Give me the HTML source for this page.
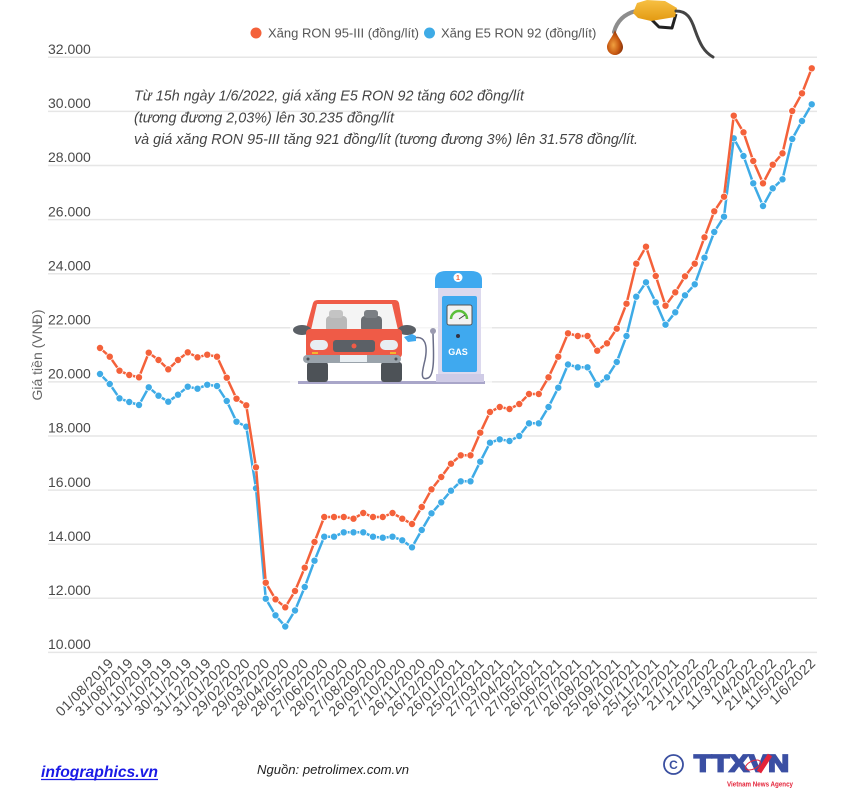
<!DOCTYPE html>
<html><head><meta charset="utf-8">
<style>
html,body{margin:0;padding:0;background:#fff;}
svg{display:block;}
text{font-family:"Liberation Sans",Arial,sans-serif;}
</style></head>
<body>
<svg width="843" height="802" viewBox="0 0 843 802" xmlns="http://www.w3.org/2000/svg">
<defs>
<marker id="mo" markerUnits="userSpaceOnUse" markerWidth="10" markerHeight="10" viewBox="-5 -5 10 10" refX="0" refY="0"><circle r="3.6" fill="#f4613a" stroke="#fff" stroke-width="0.8"/></marker>
<marker id="mb" markerUnits="userSpaceOnUse" markerWidth="10" markerHeight="10" viewBox="-5 -5 10 10" refX="0" refY="0"><circle r="3.6" fill="#3eabe6" stroke="#fff" stroke-width="0.8"/></marker>
<radialGradient id="drop" cx="0.4" cy="0.6" r="0.6"><stop offset="0" stop-color="#f0a040"/><stop offset="0.6" stop-color="#c85a12"/><stop offset="1" stop-color="#8a3208"/></radialGradient>
<linearGradient id="noz" x1="0" y1="0" x2="0" y2="1"><stop offset="0" stop-color="#f7c043"/><stop offset="1" stop-color="#e39a12"/></linearGradient>
</defs>
<rect width="843" height="802" fill="#fff"/>

<!-- gridlines -->
<g stroke="#e6e6e6" stroke-width="1.5">
<line x1="48" y1="57.3" x2="817" y2="57.3"/>
<line x1="48" y1="111.4" x2="817" y2="111.4"/>
<line x1="48" y1="165.5" x2="817" y2="165.5"/>
<line x1="48" y1="219.6" x2="817" y2="219.6"/>
<line x1="48" y1="273.7" x2="817" y2="273.7"/>
<line x1="48" y1="327.8" x2="817" y2="327.8"/>
<line x1="48" y1="381.9" x2="817" y2="381.9"/>
<line x1="48" y1="436" x2="817" y2="436"/>
<line x1="48" y1="490.1" x2="817" y2="490.1"/>
<line x1="48" y1="544.2" x2="817" y2="544.2"/>
<line x1="48" y1="598.3" x2="817" y2="598.3"/>
<line x1="48" y1="652.4" x2="817" y2="652.4"/>
</g>

<!-- y labels -->
<g font-size="14" fill="#4a4a4a">
<text x="48" y="54">32.000</text>
<text x="48" y="108.1">30.000</text>
<text x="48" y="162.2">28.000</text>
<text x="48" y="216.3">26.000</text>
<text x="48" y="270.4">24.000</text>
<text x="48" y="324.5">22.000</text>
<text x="48" y="378.6">20.000</text>
<text x="48" y="432.7">18.000</text>
<text x="48" y="486.8">16.000</text>
<text x="48" y="540.9">14.000</text>
<text x="48" y="595">12.000</text>
<text x="48" y="649.1">10.000</text>
</g>
<text transform="translate(42,355) rotate(-90)" text-anchor="middle" font-size="14" fill="#666">Giá tiền (VNĐ)</text>

<!-- legend -->
<circle cx="256" cy="33" r="5.5" fill="#f4613a"/>
<text x="268" y="37.5" font-size="13" fill="#555">Xăng RON 95-III (đồng/lít)</text>
<circle cx="429.5" cy="33" r="5.5" fill="#3eabe6"/>
<text x="441" y="37.5" font-size="13" fill="#555">Xăng E5 RON 92 (đồng/lít)</text>

<!-- nozzle -->
<g>
<path d="M636,11 C624,14 617,21 614,32" fill="none" stroke="#8d8d8d" stroke-width="4" stroke-linecap="round"/>
<path d="M615,30 C612,38 607,42 607,47 A8,8 0 0 0 623,47 C623,42 618,38 615,30 Z" fill="url(#drop)"/>
<path d="M650,18 L659,27 L672,28 L676,14" fill="none" stroke="#222" stroke-width="3" stroke-linejoin="round"/>
<path d="M633,13 L637,3 L647,0 L665,1 L677,8 L675,17 L663,19 L651,21 L638,18 Z" fill="url(#noz)"/>
<path d="M676,11 C687,11 691,18 695,30 C700,44 704,52 713,57" fill="none" stroke="#444" stroke-width="3" stroke-linecap="round"/>
</g>

<!-- annotation -->
<g font-size="15" font-style="italic" fill="#444">
<text x="134" y="100.7" textLength="390" lengthAdjust="spacingAndGlyphs">Từ 15h ngày 1/6/2022, giá xăng E5 RON 92 tăng 602 đồng/lít</text>
<text x="134" y="122.3" textLength="260" lengthAdjust="spacingAndGlyphs">(tương đương 2,03%) lên 30.235 đồng/lít</text>
<text x="134" y="144" textLength="504" lengthAdjust="spacingAndGlyphs">và giá xăng RON 95-III tăng 921 đồng/lít (tương đương 3%) lên 31.578 đồng/lít.</text>
</g>

<!-- car illustration -->
<rect x="290" y="262" width="202" height="146" fill="#fff" opacity="0.6"/>
<g>
<rect x="298" y="381" width="187" height="3" fill="#a9a6c9"/>
<path d="M318,300 L395,300 Q398,300 399,303 L404,332 L305,332 L313,303 Q314,300 318,300 Z" fill="#ef5b47"/>
<path d="M321,304 L392,304 L398,330 L311,330 L317,304 Z" fill="#f4f4f4"/>
<rect x="326" y="316" width="21" height="16" rx="4" fill="#b9b9b9"/>
<rect x="329" y="310" width="14" height="8" rx="3" fill="#c4c4c4"/>
<rect x="361" y="316" width="21" height="16" rx="4" fill="#6b6f74"/>
<rect x="364" y="310" width="14" height="8" rx="3" fill="#7b7f84"/>
<ellipse cx="302" cy="330" rx="9" ry="5" fill="#5b6066"/>
<ellipse cx="407" cy="330" rx="9" ry="5" fill="#5b6066"/>
<rect x="306" y="329" width="96" height="29" rx="4" fill="#ef5b47"/>
<rect x="310" y="340" width="18" height="10" rx="5" fill="#e8eef2"/>
<rect x="380" y="340" width="18" height="10" rx="5" fill="#e8eef2"/>
<rect x="333" y="340" width="42" height="12" rx="3" fill="#5b6066"/>
<circle cx="354" cy="346" r="2.5" fill="#ef5b47"/>
<rect x="312" y="352" width="6" height="2" fill="#f5b52e"/>
<rect x="390" y="352" width="6" height="2" fill="#f5b52e"/>
<rect x="307" y="362" width="21" height="20" rx="3" fill="#4d5257"/>
<rect x="381" y="362" width="21" height="20" rx="3" fill="#4d5257"/>
<rect x="303" y="355" width="98" height="8" rx="4" fill="#9aa3ab"/>
<rect x="340" y="355" width="27" height="7" fill="#e8eef2"/>
<circle cx="308" cy="359" r="1.5" fill="#4d5257"/>
<circle cx="396" cy="359" r="1.5" fill="#4d5257"/>
<path d="M414,338 C425,335 428,345 425,360 C422,372 420,381 428,378 C436,375 433,345 433,332" fill="none" stroke="#6a6e88" stroke-width="1.5"/>
<path d="M404,337 L412,334 L416,336 L416,341 L408,342 Z" fill="#3fa9ef"/>
<circle cx="433" cy="331" r="3" fill="#9a9ab0"/>
<rect x="438" y="283" width="43" height="96" fill="#dcd9ee"/>
<rect x="436" y="374" width="48" height="8" fill="#cfcbe6"/>
<path d="M435,288 L435,280 Q435,271 446,271 L471,271 Q482,271 482,280 L482,288 Z" fill="#3fa9ef"/>
<circle cx="458" cy="277.5" r="4.5" fill="#fff"/>
<text x="458" y="280" font-size="7" font-weight="bold" fill="#f4613a" text-anchor="middle">1</text>
<rect x="442" y="296" width="35" height="76" rx="2" fill="#3fa9ef"/>
<rect x="447" y="305" width="25" height="20" rx="2" fill="#f2f2f2" stroke="#555" stroke-width="1"/>
<path d="M451,319 A8,8 0 0 1 467,319" fill="none" stroke="#5bbf3a" stroke-width="2.5"/>
<line x1="459" y1="319" x2="465" y2="315" stroke="#444" stroke-width="1"/>
<circle cx="458" cy="336" r="2" fill="#334"/>
<text x="458" y="355" font-size="9" font-weight="bold" fill="#fff" text-anchor="middle">GAS</text>
</g>

<!-- series -->
<polyline fill="none" stroke="#3eabe6" stroke-width="2.5" stroke-linejoin="round" marker-start="url(#mb)" marker-mid="url(#mb)" marker-end="url(#mb)" points="100,374 109.75,384 119.5,398.3 129.25,402 139,405 148.75,387.3 158.5,395.7 168.25,401.7 178,394.7 187.75,386.7 197.5,388.7 207.25,384.7 217,386 226.75,401 236.5,421.7 246.25,426.7 256,488.3 265.75,598.7 275.5,615.3 285.25,626.5 295,610.5 304.75,587 314.5,560.7 324.25,536.7 334,536.7 343.75,532.3 353.5,532.3 363.25,532.3 373,536.7 382.75,537.7 392.5,536.7 402.25,540.3 412,547.3 421.75,530 431.5,513.3 441.25,502.3 451,490.7 460.75,481.3 470.5,481.3 480.25,461.7 490,442.7 499.75,439.3 509.5,441 519.25,436 529,423.3 538.75,423.3 548.5,407 558.25,387.7 568,364.5 577.75,367.3 587.5,367.3 597.25,384.7 607,377.3 616.75,362 626.5,336 636.25,296.7 646,282.3 655.75,302.3 665.5,324.7 675.25,312.3 685,295.3 694.75,284.3 704.5,257.7 714.25,232 724,216.7 733.75,138.3 743.5,156 753.25,183.3 763,206 772.75,188.3 782.5,179.3 792.25,139 802,121 811.75,104.3"/>
<polyline fill="none" stroke="#f4613a" stroke-width="2.5" stroke-linejoin="round" marker-start="url(#mo)" marker-mid="url(#mo)" marker-end="url(#mo)" points="100,348 109.75,356.7 119.5,370.7 129.25,375 139,377.3 148.75,352.7 158.5,360 168.25,369.3 178,360 187.75,352.3 197.5,357.3 207.25,354.7 217,356.7 226.75,377.7 236.5,398.7 246.25,405.3 256,467.3 265.75,582.7 275.5,599.3 285.25,607.3 295,591 304.75,567.7 314.5,542 324.25,517 334,517 343.75,517 353.5,518.7 363.25,513 373,517 382.75,517 392.5,513 402.25,518.7 412,524 421.75,507 431.5,489.3 441.25,477 451,463.7 460.75,455.3 470.5,455.3 480.25,432.7 490,412 499.75,407 509.5,409 519.25,404 529,394 538.75,394 548.5,377.3 558.25,356.7 568,333.3 577.75,336 587.5,336 597.25,350.7 607,343.3 616.75,328.7 626.5,303.7 636.25,263.7 646,246.7 655.75,276 665.5,305.7 675.25,292.3 685,276.3 694.75,263.7 704.5,237.3 714.25,211.3 724,196.7 733.75,115.7 743.5,132.3 753.25,161 763,183.3 772.75,164.7 782.5,153.3 792.25,111 802,93.3 811.75,68.3"/>

<!-- x labels -->
<g font-size="14" fill="#4a4a4a" text-anchor="end" letter-spacing="0.5">
<text transform="translate(114.5,664) rotate(-45)">01/08/2019</text>
<text transform="translate(134,664) rotate(-45)">31/08/2019</text>
<text transform="translate(153.5,664) rotate(-45)">01/10/2019</text>
<text transform="translate(173,664) rotate(-45)">31/10/2019</text>
<text transform="translate(192.5,664) rotate(-45)">30/11/2019</text>
<text transform="translate(212,664) rotate(-45)">31/12/2019</text>
<text transform="translate(231.5,664) rotate(-45)">31/01/2020</text>
<text transform="translate(251,664) rotate(-45)">29/02/2020</text>
<text transform="translate(270.5,664) rotate(-45)">29/03/2020</text>
<text transform="translate(290,664) rotate(-45)">28/04/2020</text>
<text transform="translate(309.5,664) rotate(-45)">28/05/2020</text>
<text transform="translate(329,664) rotate(-45)">27/06/2020</text>
<text transform="translate(348.5,664) rotate(-45)">28/07/2020</text>
<text transform="translate(368,664) rotate(-45)">27/08/2020</text>
<text transform="translate(387.5,664) rotate(-45)">26/09/2020</text>
<text transform="translate(407,664) rotate(-45)">27/10/2020</text>
<text transform="translate(426.5,664) rotate(-45)">26/11/2020</text>
<text transform="translate(446,664) rotate(-45)">26/12/2020</text>
<text transform="translate(465.5,664) rotate(-45)">26/01/2021</text>
<text transform="translate(485,664) rotate(-45)">25/02/2021</text>
<text transform="translate(504.5,664) rotate(-45)">27/03/2021</text>
<text transform="translate(524,664) rotate(-45)">27/04/2021</text>
<text transform="translate(543.5,664) rotate(-45)">27/05/2021</text>
<text transform="translate(563,664) rotate(-45)">26/06/2021</text>
<text transform="translate(582.5,664) rotate(-45)">27/07/2021</text>
<text transform="translate(602,664) rotate(-45)">26/08/2021</text>
<text transform="translate(621.5,664) rotate(-45)">25/09/2021</text>
<text transform="translate(641,664) rotate(-45)">26/10/2021</text>
<text transform="translate(660.5,664) rotate(-45)">25/11/2021</text>
<text transform="translate(680,664) rotate(-45)">25/12/2021</text>
<text transform="translate(699.5,664) rotate(-45)">21/1/2022</text>
<text transform="translate(719,664) rotate(-45)">21/2/2022</text>
<text transform="translate(738.5,664) rotate(-45)">11/3/2022</text>
<text transform="translate(758,664) rotate(-45)">1/4/2022</text>
<text transform="translate(777.5,664) rotate(-45)">21/4/2022</text>
<text transform="translate(797,664) rotate(-45)">11/5/2022</text>
<text transform="translate(816.5,664) rotate(-45)">1/6/2022</text>
</g>

<!-- footer -->
<text x="41" y="777" font-size="16" font-weight="bold" font-style="italic" fill="#1a1ae6" textLength="117" lengthAdjust="spacingAndGlyphs">infographics.vn</text>
<line x1="41" y1="779.5" x2="158" y2="779.5" stroke="#1a1ae6" stroke-width="1.2"/>
<text x="257" y="774" font-size="13" font-style="italic" fill="#222" textLength="152" lengthAdjust="spacingAndGlyphs">Nguồn: petrolimex.com.vn</text>

<!-- TTXVN logo -->
<circle cx="673.5" cy="764.5" r="9.5" fill="none" stroke="#3a4fa0" stroke-width="1.8"/>
<text x="673.5" y="769" font-size="12" font-weight="bold" fill="#3a4fa0" text-anchor="middle">C</text>
<text x="694" y="771.5" font-size="24" font-weight="bold" fill="#3b4fa3" stroke="#3b4fa3" stroke-width="1.8" stroke-linejoin="miter" textLength="95" lengthAdjust="spacingAndGlyphs">TTXVN</text>
<line x1="759" y1="772" x2="770" y2="755" stroke="#e4243a" stroke-width="5"/>
<ellipse cx="753" cy="765" rx="8" ry="4" fill="none" stroke="#e4243a" stroke-width="1" transform="rotate(-25 753 765)"/>
<text x="727" y="786.5" font-size="7" font-weight="bold" fill="#e4243a" textLength="66" lengthAdjust="spacingAndGlyphs">Vietnam News Agency</text>
</svg>
</body></html>
